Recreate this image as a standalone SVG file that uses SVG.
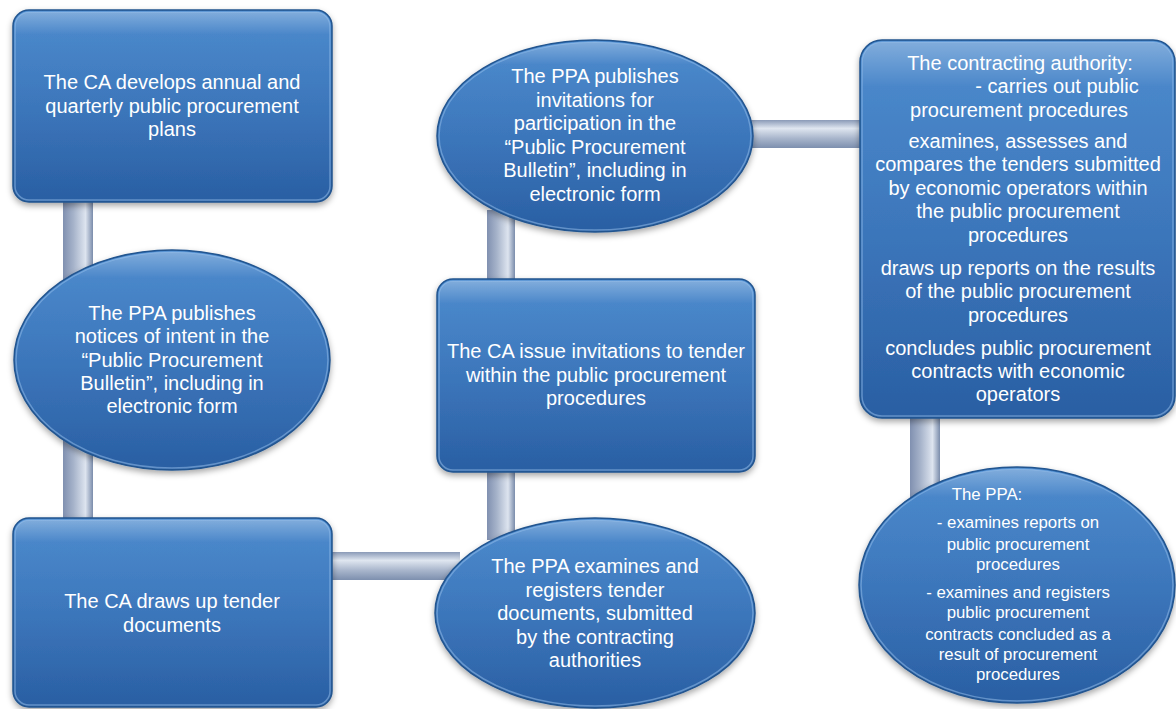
<svg xmlns="http://www.w3.org/2000/svg" width="1176" height="709" viewBox="0 0 1176 709">
<defs>
<linearGradient id="gBlue" x1="0" y1="0" x2="0" y2="1">
<stop offset="0" stop-color="#3c80c9"/>
<stop offset="0.5" stop-color="#3370b8"/>
<stop offset="1" stop-color="#2a5fa3"/>
</linearGradient>
<linearGradient id="gHi" x1="0" y1="0" x2="0" y2="1">
<stop offset="0" stop-color="#ffffff" stop-opacity="0.35"/>
<stop offset="0.12" stop-color="#ffffff" stop-opacity="0.08"/>
<stop offset="1" stop-color="#ffffff" stop-opacity="0"/>
</linearGradient>
<linearGradient id="gV" x1="0" y1="0" x2="1" y2="0">
<stop offset="0" stop-color="#8090b0"/>
<stop offset="0.35" stop-color="#a6b3ca"/>
<stop offset="0.75" stop-color="#dde4ef"/>
<stop offset="1" stop-color="#7a8cab"/>
</linearGradient>
<linearGradient id="gH" x1="0" y1="0" x2="0" y2="1">
<stop offset="0" stop-color="#8a9ab7"/>
<stop offset="0.3" stop-color="#dfe6f0"/>
<stop offset="0.65" stop-color="#a9b6cc"/>
<stop offset="1" stop-color="#7d8fae"/>
</linearGradient>
<filter id="sh" x="-10%" y="-10%" width="120%" height="125%">
<feDropShadow dx="0" dy="3" stdDeviation="3" flood-color="#000" flood-opacity="0.35"/>
</filter>
</defs>
<style>
.n{fill:url(#gBlue);stroke:#23558f;stroke-width:1.5;filter:url(#sh)}
.h{fill:url(#gHi);stroke:#9cc3ee;stroke-opacity:0.5;stroke-width:1.5}
.t{font-family:"Liberation Sans",Arial,sans-serif;font-size:20px;fill:#ffffff;text-anchor:middle}
.s{font-family:"Liberation Sans",Arial,sans-serif;font-size:16.8px;fill:#ffffff;text-anchor:middle}
</style>
<rect width="1176" height="709" fill="#ffffff"/>
<g id="connectors">
<rect x="63" y="195" width="30" height="330" fill="url(#gV)"/>
<rect x="325" y="552" width="135" height="28" fill="url(#gH)"/>
<rect x="487" y="210" width="28" height="330" fill="url(#gV)"/>
<rect x="745" y="120" width="125" height="28" fill="url(#gH)"/>
<rect x="910" y="410" width="30" height="95" fill="url(#gV)"/>
</g>
<g id="n1">
<rect class="n" x="13" y="10" width="319" height="192" rx="16"/>
<rect class="h" x="15" y="12" width="315" height="188" rx="14"/>
<text class="t"><tspan x="172" y="89">The CA develops annual and</tspan><tspan x="172" y="113">quarterly public procurement</tspan><tspan x="172" y="136">plans</tspan></text>
</g>
<g id="n2">
<ellipse class="n" cx="172" cy="360" rx="158" ry="110"/>
<ellipse class="h" cx="172" cy="360" rx="156" ry="108"/>
<text class="t"><tspan x="172" y="320">The PPA publishes</tspan><tspan x="172" y="343">notices of intent in the</tspan><tspan x="172" y="367">“Public Procurement</tspan><tspan x="172" y="390">Bulletin”, including in</tspan><tspan x="172" y="413">electronic form</tspan></text>
</g>
<g id="n3">
<rect class="n" x="13" y="518" width="319" height="189" rx="16"/>
<rect class="h" x="15" y="520" width="315" height="185" rx="14"/>
<text class="t"><tspan x="172" y="608">The CA draws up tender</tspan><tspan x="172" y="632">documents</tspan></text>
</g>
<g id="n4">
<ellipse class="n" cx="595" cy="136" rx="158" ry="96"/>
<ellipse class="h" cx="595" cy="136" rx="156" ry="94"/>
<text class="t"><tspan x="595" y="83">The PPA publishes</tspan><tspan x="595" y="107">invitations for</tspan><tspan x="595" y="130">participation in the</tspan><tspan x="595" y="154">“Public Procurement</tspan><tspan x="595" y="177">Bulletin”, including in</tspan><tspan x="595" y="201">electronic form</tspan></text>
</g>
<g id="n5">
<rect class="n" x="437" y="279" width="318" height="193" rx="16"/>
<rect class="h" x="439" y="281" width="314" height="189" rx="14"/>
<text class="t"><tspan x="596" y="358">The CA issue invitations to tender</tspan><tspan x="596" y="382">within the public procurement</tspan><tspan x="596" y="405">procedures</tspan></text>
</g>
<g id="n6">
<ellipse class="n" cx="595" cy="613" rx="160" ry="95"/>
<ellipse class="h" cx="595" cy="613" rx="158" ry="93"/>
<text class="t"><tspan x="595" y="573">The PPA examines and</tspan><tspan x="595" y="597">registers tender</tspan><tspan x="595" y="620">documents, submitted</tspan><tspan x="595" y="644">by the contracting</tspan><tspan x="595" y="667">authorities</tspan></text>
</g>
<g id="n7">
<rect class="n" x="860" y="40" width="315" height="378" rx="22"/>
<rect class="h" x="862" y="42" width="311" height="374" rx="20"/>
<text class="t"><tspan x="1020" y="70">The contracting authority:</tspan><tspan x="1057" y="93">- carries out public</tspan><tspan x="1019" y="117">procurement procedures</tspan><tspan x="1018" y="148">examines, assesses and</tspan><tspan x="1018" y="171">compares the tenders submitted</tspan><tspan x="1018" y="195">by economic operators within</tspan><tspan x="1018" y="218">the public procurement</tspan><tspan x="1018" y="242">procedures</tspan><tspan x="1018" y="275">draws up reports on the results</tspan><tspan x="1018" y="298">of the public procurement</tspan><tspan x="1018" y="322">procedures</tspan><tspan x="1018" y="355">concludes public procurement</tspan><tspan x="1018" y="378">contracts with economic</tspan><tspan x="1018" y="401">operators</tspan></text>
</g>
<g id="n8">
<ellipse class="n" cx="1017" cy="585" rx="158" ry="118"/>
<ellipse class="h" cx="1017" cy="585" rx="156" ry="116"/>
<text class="s"><tspan x="987" y="500">The PPA:</tspan><tspan x="1018" y="528">- examines reports on</tspan><tspan x="1018" y="550">public procurement</tspan><tspan x="1018" y="570">procedures</tspan><tspan x="1018" y="598">- examines and registers</tspan><tspan x="1018" y="618">public procurement</tspan><tspan x="1018" y="640">contracts concluded as a</tspan><tspan x="1018" y="660">result of procurement</tspan><tspan x="1018" y="680">procedures</tspan></text>
</g>
</svg>
